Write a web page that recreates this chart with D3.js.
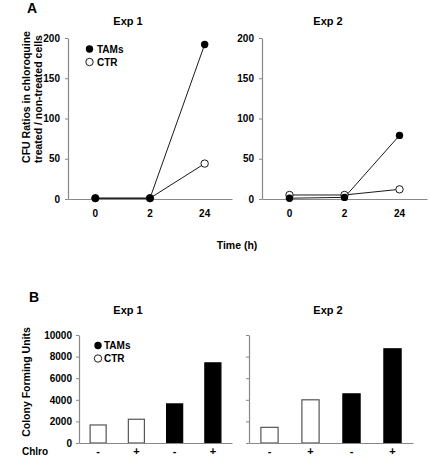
<!DOCTYPE html>
<html><head><meta charset="utf-8">
<script src="https://cdn.jsdelivr.net/npm/d3@7"></script>
<style>
body{margin:0;background:#fff;}
text{font-family:"Liberation Sans",Arial,sans-serif;font-weight:bold;}
</style></head>
<body>
<svg id="c" width="430" height="457"></svg>
<script>
// ---- data ----
const timeLabels = ["0", "2", "24"];
const exp1TAMs = [1, 1, 192];
const exp1CTR  = [1, 1, 44];
const exp2TAMs = [1, 2, 79];
const exp2CTR  = [5, 5, 12];
const ratioTicks = [0, 50, 100, 150, 200];

const chlroLabels = ["-", "+", "-", "+"];
const barGroups = ["CTR", "CTR", "TAMs", "TAMs"];
const exp1CFU = [1670, 2200, 3620, 7420];
const exp2CFU = [1450, 4000, 4550, 8720];
const cfuTicks = [0, 2000, 4000, 6000, 8000, 10000];

const svg = d3.select("#c");
const axisColor = "#888";
const fs = "10px";

function styleAxis(g){
  g.selectAll(".domain").attr("stroke", axisColor).attr("stroke-width", 1.2);
  g.selectAll(".tick line").attr("stroke", axisColor);
  g.selectAll(".tick text").attr("fill", "#000").style("font-size", fs).style("font-family", "Liberation Sans, Arial, sans-serif").style("font-weight", "bold");
}

// ---- Panel A ----
const yA = d3.scaleLinear().domain([0, 200]).range([199, 38]);
function linePanel(x0, x1, tams, ctr, title, tx){
  const x = d3.scaleBand().domain(timeLabels).range([x0, x1]);
  const gy = svg.append("g").attr("transform", `translate(${x0},0)`)
    .call(d3.axisLeft(yA).tickValues(ratioTicks).tickSize(3).tickPadding(5).tickSizeOuter(0));
  styleAxis(gy);
  const gx = svg.append("g").attr("transform", `translate(0,${yA(0)})`)
    .call(d3.axisBottom(x).tickSize(0).tickPadding(11));
  styleAxis(gx);
  const cx = d => x(d) + x.bandwidth()/2;
  const line = d3.line().x((d,i)=>cx(timeLabels[i])).y(d=>yA(d));
  svg.append("path").datum(ctr).attr("d", line).attr("fill","none").attr("stroke","#000").attr("stroke-width",0.9);
  svg.append("path").datum(tams).attr("d", line).attr("fill","none").attr("stroke","#000").attr("stroke-width",0.9);
  svg.selectAll(null).data(ctr).enter().append("circle")
    .attr("cx",(d,i)=>cx(timeLabels[i])).attr("cy",d=>yA(d)).attr("r",3.7)
    .attr("fill","#fff").attr("stroke","#000").attr("stroke-width",0.9);
  svg.selectAll(null).data(tams).enter().append("circle")
    .attr("cx",(d,i)=>cx(timeLabels[i])).attr("cy",d=>yA(d)).attr("r",3.7)
    .attr("fill","#000");
  svg.append("text").attr("x", tx).attr("y", 25).attr("text-anchor","middle").style("font-size","11px").text(title);
}
linePanel(68, 232, exp1TAMs, exp1CTR, "Exp 1", 128);
linePanel(262, 427, exp2TAMs, exp2CTR, "Exp 2", 328);

svg.append("text").attr("x", 27).attr("y", 13).style("font-size","14px").text("A");
svg.append("text").attr("transform","translate(30,97) rotate(-90)").attr("text-anchor","middle").style("font-size","10.5px").text("CFU Ratios in chloroquine");
svg.append("text").attr("transform","translate(42,99) rotate(-90)").attr("text-anchor","middle").style("font-size","10.5px").text("treated / non-treated cells");
svg.append("text").attr("x", 237).attr("y", 249).attr("text-anchor","middle").style("font-size","10.5px").text("Time (h)");

// legend A
svg.append("circle").attr("cx",89.5).attr("cy",49).attr("r",3.7).attr("fill","#000");
svg.append("text").attr("x",97).attr("y",52.5).style("font-size","10px").text("TAMs");
svg.append("circle").attr("cx",89.5).attr("cy",62).attr("r",3.7).attr("fill","#fff").attr("stroke","#000").attr("stroke-width",0.9);
svg.append("text").attr("x",97).attr("y",65.5).style("font-size","10px").text("CTR");

// ---- Panel B ----
const yB = d3.scaleLinear().domain([0, 10000]).range([443, 335]);
function barPanel(x0, x1, vals, showLabels, title, tx){
  const x = d3.scaleBand().domain(d3.range(vals.length)).range([x0, x1]).paddingInner(0.58).paddingOuter(0.29);
  const ax = d3.axisLeft(yB).tickValues(cfuTicks).tickSize(3).tickPadding(4).tickSizeOuter(0).tickFormat(d3.format("d"));
  if(!showLabels) ax.tickFormat("");
  const gy = svg.append("g").attr("transform", `translate(${x0},0)`).call(ax);
  styleAxis(gy);
  svg.selectAll(null).data(vals).enter().append("rect")
    .attr("x",(d,i)=>x(i)).attr("width",x.bandwidth())
    .attr("y",d=>yB(d)).attr("height",d=>yB(0)-yB(d))
    .attr("fill",(d,i)=>barGroups[i]==="TAMs"?"#000":"#fff")
    .attr("stroke",(d,i)=>barGroups[i]==="TAMs"?"#000":"#555").attr("stroke-width",1.2);
  const gx = svg.append("g").attr("transform", `translate(0,${yB(0)})`)
    .call(d3.axisBottom(x).tickSize(0).tickPadding(4).tickFormat(i=>chlroLabels[i]));
  styleAxis(gx);
  gx.selectAll(".tick text").style("font-size","11px");
  svg.append("text").attr("x", tx).attr("y", 314).attr("text-anchor","middle").style("font-size","11px").text(title);
}
barPanel(79, 232, exp1CFU, true, "Exp 1", 128);
barPanel(249, 413, exp2CFU, false, "Exp 2", 328);

svg.append("text").attr("x", 29).attr("y", 302).style("font-size","14px").text("B");
svg.append("text").attr("transform","translate(30,382) rotate(-90)").attr("text-anchor","middle").style("font-size","10.5px").text("Colony Forming Units");
svg.append("text").attr("x", 22).attr("y", 455).style("font-size","10px").text("Chlro");

svg.append("circle").attr("cx",98).attr("cy",345.5).attr("r",3.7).attr("fill","#000");
svg.append("text").attr("x",104).attr("y",349).style("font-size","10px").text("TAMs");
svg.append("circle").attr("cx",98).attr("cy",358.5).attr("r",3.7).attr("fill","#fff").attr("stroke","#000").attr("stroke-width",0.9);
svg.append("text").attr("x",104).attr("y",362).style("font-size","10px").text("CTR");
</script>
</body></html>
